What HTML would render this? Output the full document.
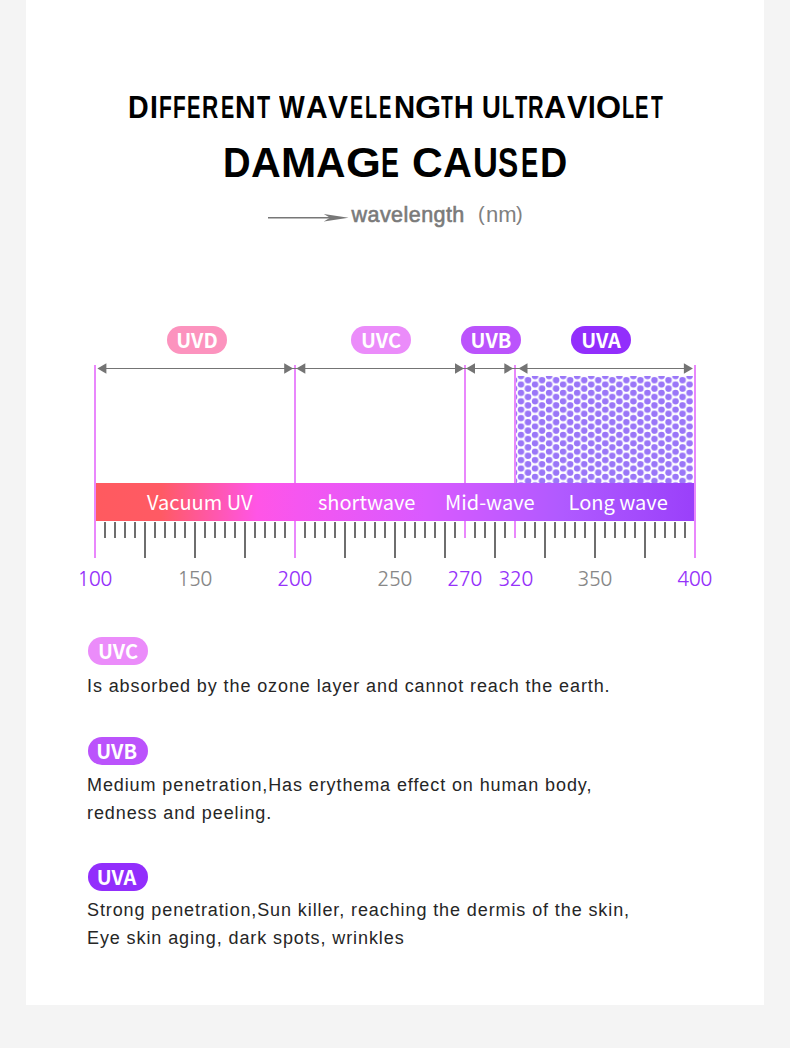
<!DOCTYPE html>
<html><head><meta charset="utf-8">
<style>
html,body{margin:0;padding:0;}
body{width:790px;height:1048px;background:#f4f4f4;position:relative;overflow:hidden;}
.card{position:absolute;left:26px;top:0;width:738px;height:1005px;background:#fff;}
.abs{position:absolute;white-space:nowrap;}
.tl{position:absolute;line-height:1;font-family:"Liberation Sans",sans-serif;font-weight:bold;color:#000;transform-origin:0 0;white-space:nowrap;}
.tw{position:absolute;white-space:nowrap;font-family:"Liberation Sans",sans-serif;font-weight:bold;line-height:1;color:#000;}
.tw span{display:inline-block;transform-origin:0 0;}
.wl{left:351.5px;top:205px;font:21.5px/20px "Liberation Sans",sans-serif;color:#7a7a7a;letter-spacing:0.45px;-webkit-text-stroke:0.6px #7a7a7a}
.nm{top:205px;font:20px/20px "Liberation Sans",sans-serif;color:#808080;}
.pill{position:absolute;width:60px;height:28px;border-radius:14px;color:#fff;text-align:center;font:bold 20px/28px "Noto Sans CJK SC",sans-serif;}
.bl{position:absolute;top:483px;height:38px;font:20px/38px "Noto Sans CJK SC",sans-serif;color:#fff;white-space:nowrap;}
.num{position:absolute;top:566.7px;font:20px/24px "NanumGothic",sans-serif;letter-spacing:-0.6px;text-indent:-1.2px;width:60px;text-align:center;}
.p{color:#9632fa} .g{color:#888}
.txt{position:absolute;left:87px;font:18px/28px "Liberation Sans",sans-serif;color:#262626;letter-spacing:0.9px;white-space:nowrap;}
</style></head><body>
<div class="card"></div>
<div class="tw" style="left:128.34px;top:92.2px;font-size:31.5px"><span style="width:21.62px;transform:scaleX(0.909)">D</span><span style="width:8.57px;transform:scaleX(0.898)">I</span><span style="width:14.11px;transform:scaleX(0.666)">F</span><span style="width:14.74px;transform:scaleX(0.660)">F</span><span style="width:15.15px;transform:scaleX(0.641)">E</span><span style="width:18.18px;transform:scaleX(0.715)">R</span><span style="width:14.84px;transform:scaleX(0.629)">E</span><span style="width:21.34px;transform:scaleX(0.904)">N</span><span style="width:30.00px;transform:scaleX(0.683)">T</span></div>
<div class="tw" style="left:279.20px;top:92.2px;font-size:31.5px"><span style="width:26.55px;transform:scaleX(0.865)">W</span><span style="width:22.35px;transform:scaleX(0.952)">A</span><span style="width:21.83px;transform:scaleX(0.947)">V</span><span style="width:15.58px;transform:scaleX(0.618)">E</span><span style="width:13.78px;transform:scaleX(0.629)">L</span><span style="width:14.30px;transform:scaleX(0.590)">E</span><span style="width:21.56px;transform:scaleX(0.931)">N</span><span style="width:25.75px;transform:scaleX(1.068)">G</span><span style="width:12.74px;transform:scaleX(0.613)">T</span><span style="width:30.00px;transform:scaleX(0.856)">H</span></div>
<div class="tw" style="left:482.24px;top:92.2px;font-size:31.5px"><span style="width:20.16px;transform:scaleX(0.825)">U</span><span style="width:12.60px;transform:scaleX(0.635)">L</span><span style="width:12.80px;transform:scaleX(0.635)">T</span><span style="width:16.34px;transform:scaleX(0.685)">R</span><span style="width:22.86px;transform:scaleX(0.971)">A</span><span style="width:20.91px;transform:scaleX(0.967)">V</span><span style="width:8.00px;transform:scaleX(0.876)">I</span><span style="width:26.19px;transform:scaleX(1.023)">O</span><span style="width:12.99px;transform:scaleX(0.635)">L</span><span style="width:15.62px;transform:scaleX(0.641)">E</span><span style="width:30.00px;transform:scaleX(0.613)">T</span></div>
<div class="tw" style="left:223.42px;top:140.8px;font-size:42.75px"><span style="width:27.15px;transform:scaleX(0.894)">D</span><span style="width:30.48px;transform:scaleX(0.964)">A</span><span style="width:35.43px;transform:scaleX(0.989)">M</span><span style="width:29.42px;transform:scaleX(0.953)">A</span><span style="width:35.35px;transform:scaleX(1.050)">G</span><span style="width:30.00px;transform:scaleX(0.629)">E</span></div>
<div class="tw" style="left:411.90px;top:140.8px;font-size:42.75px"><span style="width:31.10px;transform:scaleX(0.996)">C</span><span style="width:30.03px;transform:scaleX(0.936)">A</span><span style="width:25.46px;transform:scaleX(0.807)">U</span><span style="width:22.53px;transform:scaleX(0.710)">S</span><span style="width:19.43px;transform:scaleX(0.604)">E</span><span style="width:30.00px;transform:scaleX(0.882)">D</span></div>
<svg class="abs" style="left:0;top:0" width="790" height="600">
<defs>
<pattern id="dots" x="516" y="376" width="14.05" height="8.4" patternUnits="userSpaceOnUse">
<ellipse cx="5" cy="0" rx="3.3" ry="3.15" fill="#9a76f8"/>
<ellipse cx="5" cy="8.4" rx="3.3" ry="3.15" fill="#9a76f8"/>
<ellipse cx="12.025" cy="4.2" rx="3.3" ry="3.15" fill="#9a76f8"/>
<ellipse cx="-2.025" cy="4.2" rx="3.3" ry="3.15" fill="#9a76f8"/>
</pattern>
<linearGradient id="bar" x1="95" x2="695" y1="0" y2="0" gradientUnits="userSpaceOnUse">
<stop offset="0" stop-color="#ff5a5f"/>
<stop offset="0.11" stop-color="#ff5a64"/>
<stop offset="0.27" stop-color="#ff55e6"/>
<stop offset="0.34" stop-color="#f556f0"/>
<stop offset="0.55" stop-color="#d95aff"/>
<stop offset="0.78" stop-color="#b05aff"/>
<stop offset="1" stop-color="#9a40fa"/>
</linearGradient>
</defs>
<line x1="268" y1="217.7" x2="340" y2="217.7" stroke="#777" stroke-width="1.4"/>
<path d="M348.6,217.7 L323.8,214 L330,217.7 L323.8,221.4 Z" fill="#777"/>
<rect x="516" y="376" width="177" height="107" fill="url(#dots)"/>
<g fill="#e987fc">
<rect x="94" y="365" width="2" height="193"/>
<rect x="294" y="365" width="2" height="193"/>
<rect x="464" y="365" width="2" height="173"/>
<rect x="514" y="365" width="2" height="173"/>
<rect x="694" y="365" width="2" height="193"/>
</g>
<g fill="#747474">
<rect x="99" y="368" width="592" height="1"/>
<polygon points="97.4,368.5 106.4,363.25 106.4,373.75"/>
<polygon points="293.2,368.5 284.2,363.25 284.2,373.75"/>
<polygon points="296.3,368.5 305.3,363.25 305.3,373.75"/>
<polygon points="464,368.5 455,363.25 455,373.75"/>
<polygon points="466,368.5 475,363.25 475,373.75"/>
<polygon points="513.3,368.5 504.29999999999995,363.25 504.29999999999995,373.75"/>
<polygon points="518.5,368.5 527.5,363.25 527.5,373.75"/>
<polygon points="692.9,368.5 683.9,363.25 683.9,373.75"/>
</g>
<rect x="96" y="483" width="598" height="38" fill="url(#bar)"/>
<g fill="#6e6e6e">
<rect x="104" y="522" width="2" height="16"/>
<rect x="114" y="522" width="2" height="16"/>
<rect x="124" y="522" width="2" height="16"/>
<rect x="134" y="522" width="2" height="16"/>
<rect x="144" y="522" width="2" height="36"/>
<rect x="154" y="522" width="2" height="16"/>
<rect x="164" y="522" width="2" height="16"/>
<rect x="174" y="522" width="2" height="16"/>
<rect x="184" y="522" width="2" height="16"/>
<rect x="194" y="522" width="2" height="36"/>
<rect x="204" y="522" width="2" height="16"/>
<rect x="214" y="522" width="2" height="16"/>
<rect x="224" y="522" width="2" height="16"/>
<rect x="234" y="522" width="2" height="16"/>
<rect x="244" y="522" width="2" height="36"/>
<rect x="254" y="522" width="2" height="16"/>
<rect x="264" y="522" width="2" height="16"/>
<rect x="274" y="522" width="2" height="16"/>
<rect x="284" y="522" width="2" height="16"/>
<rect x="304" y="522" width="2" height="16"/>
<rect x="314" y="522" width="2" height="16"/>
<rect x="324" y="522" width="2" height="16"/>
<rect x="334" y="522" width="2" height="16"/>
<rect x="344" y="522" width="2" height="36"/>
<rect x="354" y="522" width="2" height="16"/>
<rect x="364" y="522" width="2" height="16"/>
<rect x="374" y="522" width="2" height="16"/>
<rect x="384" y="522" width="2" height="16"/>
<rect x="394" y="522" width="2" height="36"/>
<rect x="404" y="522" width="2" height="16"/>
<rect x="414" y="522" width="2" height="16"/>
<rect x="424" y="522" width="2" height="16"/>
<rect x="434" y="522" width="2" height="16"/>
<rect x="444" y="522" width="2" height="36"/>
<rect x="454" y="522" width="2" height="16"/>
<rect x="474" y="522" width="2" height="16"/>
<rect x="484" y="522" width="2" height="16"/>
<rect x="494" y="522" width="2" height="36"/>
<rect x="504" y="522" width="2" height="16"/>
<rect x="524" y="522" width="2" height="16"/>
<rect x="534" y="522" width="2" height="16"/>
<rect x="544" y="522" width="2" height="36"/>
<rect x="554" y="522" width="2" height="16"/>
<rect x="564" y="522" width="2" height="16"/>
<rect x="574" y="522" width="2" height="16"/>
<rect x="584" y="522" width="2" height="16"/>
<rect x="594" y="522" width="2" height="36"/>
<rect x="604" y="522" width="2" height="16"/>
<rect x="614" y="522" width="2" height="16"/>
<rect x="624" y="522" width="2" height="16"/>
<rect x="634" y="522" width="2" height="16"/>
<rect x="644" y="522" width="2" height="36"/>
<rect x="654" y="522" width="2" height="16"/>
<rect x="664" y="522" width="2" height="16"/>
<rect x="674" y="522" width="2" height="16"/>
<rect x="684" y="522" width="2" height="16"/>
</g>
</svg>
<div class="abs wl">wavelength</div>
<div class="abs nm" style="left:478px;top:203.5px">(</div>
<div class="abs nm" style="left:486px;font-size:22px">nm</div>
<div class="abs nm" style="left:516px;top:203.5px">)</div>
<div class="pill" style="left:167px;top:326px;background:#fc93be">UVD</div>
<div class="pill" style="left:351px;top:326px;background:#eb8cfa">UVC</div>
<div class="pill" style="left:461px;top:326px;background:#bb53fc">UVB</div>
<div class="pill" style="left:571px;top:326px;background:#922efc">UVA</div>
<div class="bl" style="left:147px">Vacuum UV</div>
<div class="bl" style="left:318px">shortwave</div>
<div class="bl" style="left:445px">Mid-wave</div>
<div class="bl" style="left:568.6px">Long wave</div>
<div class="num p" style="left:65px">100</div>
<div class="num g" style="left:165px">150</div>
<div class="num p" style="left:265px">200</div>
<div class="num g" style="left:365px">250</div>
<div class="num p" style="left:435px">270</div>
<div class="num p" style="left:486px">320</div>
<div class="num g" style="left:565px">350</div>
<div class="num p" style="left:665px">400</div>
<div class="pill" style="left:88px;top:637px;background:#eb8cfa">UVC</div>
<div class="txt" style="top:671.8px">Is absorbed by the ozone layer and cannot reach the earth.</div>
<div class="pill" style="left:88px;top:737px;background:#bb53fc;text-indent:-2.6px">UVB</div>
<div class="txt" style="top:770.8px">Medium penetration,Has erythema effect on human body,</div>
<div class="txt" style="top:798.8px">redness and peeling.</div>
<div class="pill" style="left:88px;top:863px;background:#922efc;text-indent:-3px">UVA</div>
<div class="txt" style="top:895.8px">Strong penetration,Sun killer, reaching the dermis of the skin,</div>
<div class="txt" style="top:923.8px">Eye skin aging, dark spots, wrinkles</div>
</body></html>
